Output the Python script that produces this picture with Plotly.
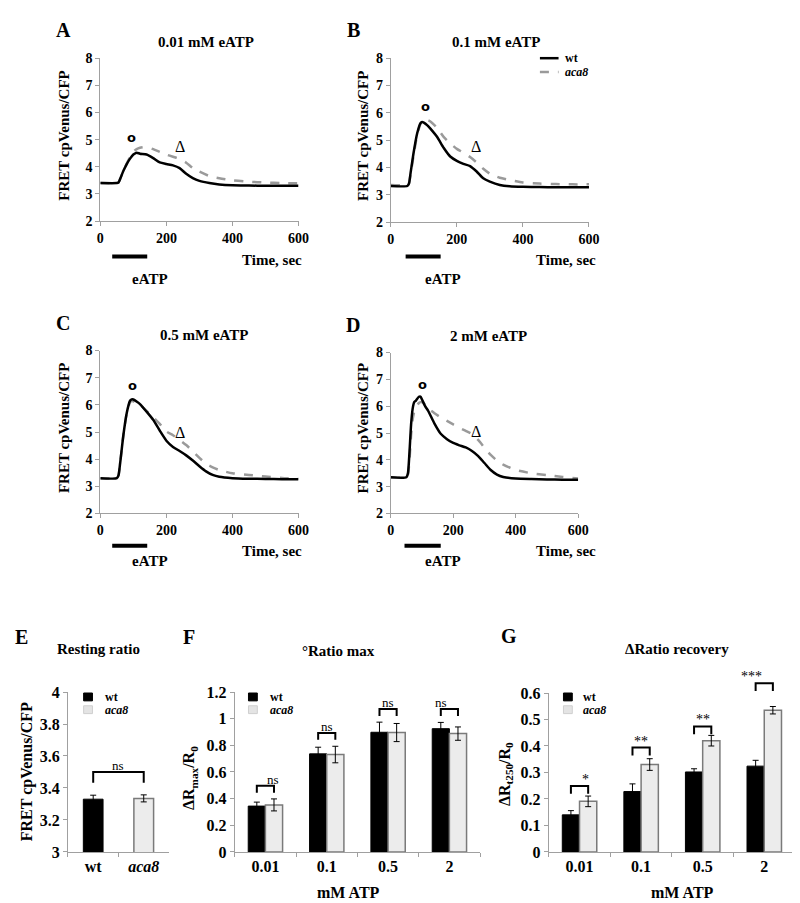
import plotly.graph_objects as go

W, H = 800, 903
FONT = "Liberation Serif"
AX_COL = "#a0a0a0"
GRAY_LINE = "#9a9a9a"
ACA_FILL = "#ececec"
ACA_EDGE = "#7a7a7a"

# ---------------- data: time courses ----------------
t_A = [0, 50, 55, 60, 70, 80, 90, 100, 110, 120, 140, 160, 180, 200, 220, 240, 260, 280, 300, 330, 360, 400, 450, 500, 550, 600]
wt_A = [3.40, 3.40, 3.42, 3.55, 3.85, 4.10, 4.30, 4.45, 4.52, 4.48, 4.45, 4.32, 4.16, 4.10, 4.05, 3.95, 3.74, 3.58, 3.48, 3.40, 3.35, 3.32, 3.31, 3.30, 3.30, 3.30]
aca8_A = [3.40, 3.40, 3.42, 3.55, 3.85, 4.12, 4.35, 4.55, 4.65, 4.70, 4.73, 4.65, 4.55, 4.45, 4.37, 4.29, 4.15, 3.95, 3.82, 3.66, 3.58, 3.50, 3.45, 3.42, 3.40, 3.39]

t_B = [0, 50, 55, 60, 70, 80, 90, 95, 100, 110, 120, 140, 160, 180, 200, 220, 240, 260, 280, 300, 330, 360, 400, 450, 500, 550, 600]
wt_B = [3.32, 3.32, 3.40, 3.80, 4.60, 5.25, 5.62, 5.66, 5.64, 5.55, 5.42, 5.12, 4.72, 4.40, 4.24, 4.13, 4.05, 3.85, 3.60, 3.48, 3.36, 3.31, 3.29, 3.28, 3.27, 3.27, 3.27]
aca8_B = [3.36, 3.36, 3.42, 3.75, 4.50, 5.20, 5.60, 5.70, 5.76, 5.74, 5.68, 5.45, 5.12, 4.88, 4.68, 4.54, 4.38, 4.18, 3.95, 3.77, 3.62, 3.54, 3.45, 3.41, 3.39, 3.38, 3.38]

t_C = [0, 50, 55, 60, 70, 80, 90, 95, 100, 110, 120, 140, 160, 180, 200, 220, 240, 260, 280, 300, 320, 340, 360, 400, 450, 500, 550, 600]
wt_C = [3.30, 3.30, 3.40, 3.85, 4.90, 5.70, 6.15, 6.20, 6.20, 6.12, 6.03, 5.75, 5.45, 5.05, 4.68, 4.45, 4.30, 4.14, 3.95, 3.74, 3.55, 3.42, 3.35, 3.30, 3.28, 3.27, 3.26, 3.26]
aca8_C = [3.30, 3.30, 3.40, 3.85, 4.90, 5.68, 6.10, 6.14, 6.13, 6.08, 6.00, 5.78, 5.55, 5.30, 5.02, 4.88, 4.71, 4.52, 4.29, 4.05, 3.83, 3.70, 3.60, 3.48, 3.42, 3.36, 3.31, 3.28]

t_D = [0, 50, 55, 60, 65, 70, 75, 80, 90, 95, 100, 110, 120, 140, 160, 180, 200, 220, 240, 260, 280, 300, 320, 340, 360, 400, 450, 500, 550, 600]
wt_D = [3.35, 3.35, 3.50, 4.30, 5.30, 5.90, 6.15, 6.20, 6.35, 6.36, 6.25, 6.00, 5.82, 5.35, 4.97, 4.77, 4.63, 4.54, 4.46, 4.33, 4.14, 3.88, 3.62, 3.45, 3.36, 3.30, 3.28, 3.27, 3.26, 3.26]
aca8_D = [3.35, 3.35, 3.45, 4.00, 4.90, 5.50, 5.80, 5.95, 6.12, 6.15, 6.15, 6.05, 5.92, 5.74, 5.58, 5.45, 5.32, 5.19, 5.08, 4.96, 4.74, 4.45, 4.18, 3.97, 3.82, 3.62, 3.50, 3.43, 3.36, 3.30]

panel_titles = ["0.01 mM eATP", "0.1 mM eATP", "0.5 mM eATP", "2 mM eATP"]
eatp_on = [36, 45, 36, 44]
eatp_off = [142, 151, 142, 160]
max_mark_t = [95, 104, 98, 102]
max_mark_v = [5.08, 6.22, 6.70, 6.80]
rec_mark_t = [240, 258, 240, 272]
rec_mark_v = [4.75, 4.76, 4.99, 5.04]

# ---------------- data: bar charts ----------------
rest_cats = ["wt", "aca8"]
rest_wt, rest_wt_err = 3.330, 0.025
rest_aca8, rest_aca8_err = 3.335, 0.022
rest_bracket = 3.50
rest_sig = "ns"

conc_cats = ["0.01", "0.1", "0.5", "2"]
max_wt = [0.344, 0.736, 0.898, 0.925]
max_wt_err = [0.030, 0.050, 0.076, 0.047]
max_aca8 = [0.353, 0.731, 0.896, 0.888]
max_aca8_err = [0.045, 0.062, 0.068, 0.050]
max_bracket = [0.496, 0.893, 1.072, 1.072]
max_sig = ["ns", "ns", "ns", "ns"]

rec_wt = [0.140, 0.228, 0.302, 0.324]
rec_wt_err = [0.016, 0.029, 0.012, 0.022]
rec_aca8 = [0.191, 0.330, 0.420, 0.535]
rec_aca8_err = [0.020, 0.022, 0.020, 0.014]
rec_bracket = [0.249, 0.394, 0.474, 0.637]
rec_sig = ["*", "**", "**", "***"]


def P(xpx, ypx):
    return xpx / W, 1 - ypx / H


def dom_x(a, b):
    return [a / W, b / W]


def dom_y(top, bottom):
    return [1 - bottom / H, 1 - top / H]


fig = go.Figure()

line_panels = [
    (t_A, wt_A, aca8_A, "x", "y"),
    (t_B, wt_B, aca8_B, "x2", "y2"),
    (t_C, wt_C, aca8_C, "x3", "y3"),
    (t_D, wt_D, aca8_D, "x4", "y4"),
]
for t, w, a, xa, ya in line_panels:
    fig.add_trace(go.Scatter(x=t, y=a, mode="lines", xaxis=xa, yaxis=ya,
                             line=dict(color=GRAY_LINE, width=2.5, dash="dash", shape="spline", smoothing=0.6),
                             name="aca8", showlegend=False))
    fig.add_trace(go.Scatter(x=t, y=w, mode="lines", xaxis=xa, yaxis=ya,
                             line=dict(color="black", width=2.5, shape="spline", smoothing=0.6),
                             name="wt", showlegend=False))

# E bars
BW_E = 0.39
fig.add_trace(go.Bar(x=[rest_cats[0]], y=[rest_wt], xaxis="x5", yaxis="y5", width=BW_E,
                     offsetgroup="e",
                     marker=dict(color="black", line=dict(color="black", width=1)),
                     error_y=dict(type="data", array=[rest_wt_err], color="black", thickness=1, width=3),
                     showlegend=False))
fig.add_trace(go.Bar(x=[rest_cats[1]], y=[rest_aca8], xaxis="x5", yaxis="y5", width=BW_E,
                     offsetgroup="e",
                     marker=dict(color=ACA_FILL, line=dict(color=ACA_EDGE, width=1.5)),
                     error_y=dict(type="data", array=[rest_aca8_err], color="black", thickness=1, width=3),
                     showlegend=False))

# F, G bars
for wt, wte, ac, ace, xa, ya in [
    (max_wt, max_wt_err, max_aca8, max_aca8_err, "x6", "y6"),
    (rec_wt, rec_wt_err, rec_aca8, rec_aca8_err, "x7", "y7"),
]:
    fig.add_trace(go.Bar(x=conc_cats, y=wt, xaxis=xa, yaxis=ya,
                         marker=dict(color="black", line=dict(color="black", width=1)),
                         error_y=dict(type="data", array=wte, color="black", thickness=1, width=3),
                         showlegend=False))
    fig.add_trace(go.Bar(x=conc_cats, y=ac, xaxis=xa, yaxis=ya,
                         marker=dict(color=ACA_FILL, line=dict(color=ACA_EDGE, width=1.5)),
                         error_y=dict(type="data", array=ace, color="black", thickness=1, width=3),
                         showlegend=False))

BARGAP = 0.44
tickfont = dict(family=FONT, size=14, color="black", weight="bold")
tickfont_bar = dict(family=FONT, size=16, color="black", weight="bold")


def line_x(dom):
    return dict(domain=dom, range=[0, 600], dtick=200, tick0=0, showline=True, linecolor=AX_COL,
                linewidth=1, ticks="outside", ticklen=4, tickcolor=AX_COL, showgrid=False,
                zeroline=False, tickfont=tickfont)


def line_y(dom):
    return dict(domain=dom, range=[2, 8], dtick=1, showline=True, linecolor=AX_COL, linewidth=1,
                ticks="outside", ticklen=4, tickcolor=AX_COL, showgrid=False, zeroline=False,
                tickfont=tickfont)


def bar_x(dom, ncat):
    return dict(domain=dom, type="category", range=[-0.5, ncat - 0.5], showline=True, linecolor=AX_COL,
                linewidth=1, ticks="outside", ticklen=4, tickcolor=AX_COL, tickson="boundaries",
                showgrid=False, zeroline=False, tickfont=tickfont_bar)


def bar_y(dom, rng, dt):
    return dict(domain=dom, range=rng, dtick=dt, showline=True, linecolor=AX_COL, linewidth=1,
                ticks="outside", ticklen=4, tickcolor=AX_COL, showgrid=False, zeroline=False,
                tickfont=tickfont_bar)


doms = {
    1: (dom_x(90, 292), dom_y(43, 209)),
    2: (dom_x(386, 588), dom_y(43, 210)),
    3: (dom_x(90, 292), dom_y(341, 507)),
    4: (dom_x(386, 577), dom_y(343, 507)),
    5: (dom_x(57, 160), dom_y(689, 852)),
    6: (dom_x(227, 477), dom_y(689, 852)),
    7: (dom_x(547, 798), dom_y(690, 852)),
}

layout = dict(
    width=W, height=H, margin=dict(l=0, r=0, t=0, b=0),
    paper_bgcolor="white", plot_bgcolor="white", showlegend=False,
    barmode="group", bargap=BARGAP, bargroupgap=0,
    font=dict(family=FONT, color="black"),
)
for i in range(1, 5):
    sx = "" if i == 1 else str(i)
    layout["xaxis" + sx] = dict(line_x(doms[i][0]), anchor="y" + sx)
    layout["yaxis" + sx] = dict(line_y(doms[i][1]), anchor="x" + sx)
layout["xaxis5"] = dict(bar_x(doms[5][0], 2), anchor="y5")
layout["yaxis5"] = dict(bar_y(doms[5][1], [3, 4], 0.2), anchor="x5")
layout["xaxis6"] = dict(bar_x(doms[6][0], 4), anchor="y6")
layout["yaxis6"] = dict(bar_y(doms[6][1], [0, 1.2], 0.2), anchor="x6")
layout["xaxis7"] = dict(bar_x(doms[7][0], 4), anchor="y7")
layout["yaxis7"] = dict(bar_y(doms[7][1], [0, 0.6], 0.1), anchor="x7")
# italic category label for aca8
layout["xaxis5"]["tickvals"] = rest_cats
layout["xaxis5"]["ticktext"] = ["wt", "<i>aca8</i>"]
fig.update_layout(**layout)

ann = []
shapes = []


def text(x, y, s, size, xanchor="center", yanchor="middle", angle=0, bold=True):
    px, py = P(x, y)
    ann.append(dict(x=px, y=py, xref="paper", yref="paper", text=("<b>%s</b>" % s) if bold else s,
                    showarrow=False, xanchor=xanchor, yanchor=yanchor, textangle=angle,
                    font=dict(family=FONT, size=size, color="black")))


# panel letters
for L, x, y in [("A", 52, 14), ("B", 348, 14), ("C", 52, 313), ("D", 348, 315),
                ("E", 10, 633), ("F", 180, 633), ("G", 507, 632)]:
    text(x, y, L, 20)

# line-panel titles, y titles, time labels, eATP bars
title_pos = [(198, 26), (493, 26), (196, 325), (486, 326)]
ytitle_pos = [(53, 122), (357, 122), (53, 420), (358, 420)]
time_pos = [(298, 249), (597, 249), (298, 545), (597, 545)]
bar_y_px = [245, 245, 540, 540]
eatp_txt_y = [258, 258, 555, 555]
for i in range(4):
    sx = "" if i == 0 else str(i + 1)
    text(*title_pos[i], panel_titles[i], 15)
    text(*ytitle_pos[i], "FRET cpVenus/CFP", 15, angle=-90)
    text(*time_pos[i], "Time, sec", 15, xanchor="right")
    yb = P(0, bar_y_px[i])[1]
    shapes.append(dict(type="line", xref="x%s domain" % sx, yref="paper",
                       x0=eatp_on[i] / 600, x1=eatp_off[i] / 600, y0=yb, y1=yb,
                       line=dict(color="black", width=4)))
    mid = (eatp_on[i] + eatp_off[i]) / 2 / 600
    ann.append(dict(x=mid, y=P(0, eatp_txt_y[i])[1], xref="x%s domain" % sx, yref="paper",
                    text="<b>eATP</b>", showarrow=False, font=dict(family=FONT, size=15, color="black")))
    ann.append(dict(x=max_mark_t[i], y=max_mark_v[i], xref="x" + sx, yref="y" + sx, text="<b>o</b>",
                    showarrow=False, font=dict(family="DejaVu Sans", size=13, color="black")))
    ann.append(dict(x=rec_mark_t[i], y=rec_mark_v[i], xref="x" + sx, yref="y" + sx, text="Δ",
                    showarrow=False, font=dict(family=FONT, size=16, color="black")))

# line legend (panel B)
for k, (lbl, col, dash, ypx) in enumerate([("wt", "black", "solid", 43), ("<i>aca8</i>", GRAY_LINE, "dash", 57)]):
    x0, y0 = P(538, ypx)
    x1, _ = P(557, ypx)
    shapes.append(dict(type="line", xref="paper", yref="paper", x0=x0, x1=x1, y0=y0, y1=y0,
                       line=dict(color=col, width=2.5, dash=dash)))
    text(562, ypx, lbl, 12, xanchor="left")

# bar panel titles
text(88, 645, "Resting ratio", 15)
text(333, 647, "°Ratio max", 15)
text(678, 645, "ΔRatio recovery", 15)
text(15, 770, "FRET cpVenus/CFP", 16, angle=-90)
text(181, 777, "ΔR<sub>max</sub>/R<sub>0</sub>", 16, angle=-90)
text(503, 773, "ΔR<sub>t250</sub>/R<sub>0</sub>", 16, angle=-90)
text(343, 893, "mM ATP", 16)
text(683, 893, "mM ATP", 16)

# bar legends
for xr, xt in [(73, 93), (241, 261), (562, 580)]:
    for lbl, fill, edge, ytop in [("wt", "black", "black", 690), ("<i>aca8</i>", "#e4e4e4", "#cfcfcf", 703)]:
        x0, y1 = P(xr, ytop)
        x1, y0 = P(xr + 9, ytop + 8)
        shapes.append(dict(type="rect", xref="paper", yref="paper", x0=x0, x1=x1, y0=y0, y1=y1,
                           fillcolor=fill, line=dict(color=edge, width=1)))
        text(xt, ytop + 4, lbl, 12, xanchor="left")


# significance brackets
def bracket(ax, ncat, i0, i1, level, rng, leg_px, dom_px, label, size):
    sx = ax
    lo, hi = rng
    f = lambda p: (p + 0.5) / ncat
    yt = (level - lo) / (hi - lo)
    yl = yt - leg_px / dom_px
    shapes.append(dict(type="path", xref="x%s domain" % sx, yref="y%s domain" % sx,
                       path="M %f,%f L %f,%f L %f,%f L %f,%f" % (f(i0), yl, f(i0), yt, f(i1), yt, f(i1), yl),
                       line=dict(color="black", width=2)))
    ann.append(dict(x=(f(i0) + f(i1)) / 2, y=yt, xref="x%s domain" % sx, yref="y%s domain" % sx,
                    text=label, showarrow=False, yanchor="bottom", yshift=-3,
                    font=dict(family=FONT, size=size, color="black")))


bracket("5", 2, 0, 1, rest_bracket, (3, 4), 11, 163, rest_sig, 13)
hw = (1 - BARGAP) / 4
for i in range(4):
    bracket("6", 4, i - hw, i + hw, max_bracket[i], (0, 1.2), 7, 163, max_sig[i], 13)
    bracket("7", 4, i - hw, i + hw, rec_bracket[i], (0, 0.6), 8, 162, rec_sig[i], 14)

fig.update_layout(annotations=ann, shapes=shapes)
fig.write_html("out.html")
